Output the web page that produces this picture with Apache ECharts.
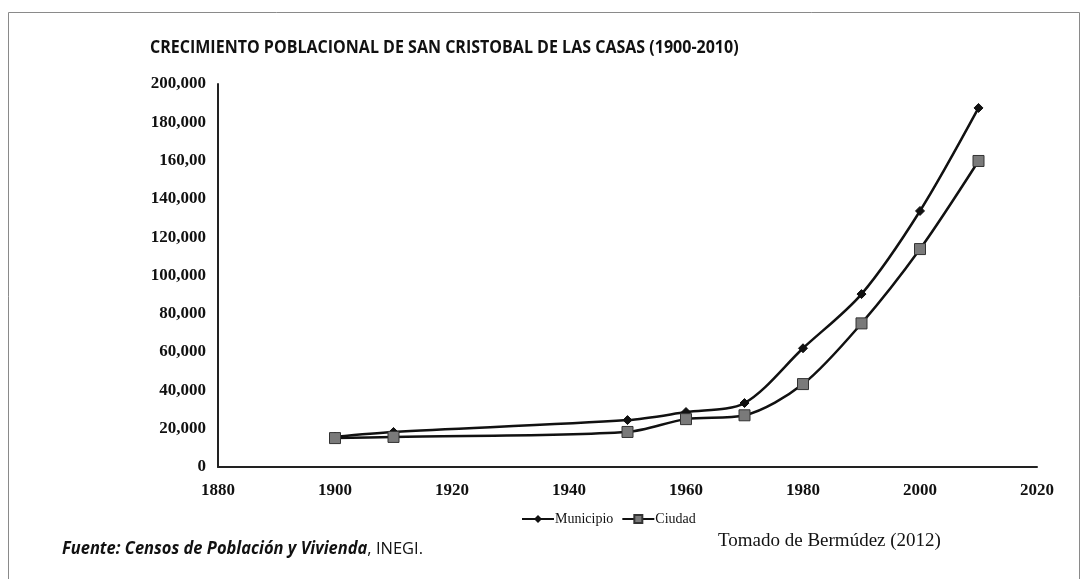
<!DOCTYPE html>
<html><head><meta charset="utf-8">
<script src="https://cdn.jsdelivr.net/npm/echarts@6/dist/echarts.min.js"></script>
<style>html,body{margin:0;padding:0;background:#fff}#c{width:1088px;height:579px}</style>
</head><body><div id="c"></div>
<script>
const years = [1900, 1910, 1950, 1960, 1970, 1980, 1990, 2000, 2010];
const municipio = [15800, 18300, 24500, 28700, 33400, 62000, 90300, 133700, 187500];
const ciudad = [15100, 15700, 18300, 25000, 27000, 43300, 75000, 113800, 159800];
const yTickLabels = {0:'0',20000:'20,000',40000:'40,000',60000:'60,000',80000:'80,000',100000:'100,000',120000:'120,000',140000:'140,000',160000:'160,00',180000:'180,000',200000:'200,000'};
const xTicks = [1880,1900,1920,1940,1960,1980,2000,2020];
const titleText = 'CRECIMIENTO POBLACIONAL DE SAN CRISTOBAL DE LAS CASAS (1900-2010)';

const chart = echarts.init(document.getElementById('c'));
const serif = '"Liberation Serif","DejaVu Serif",serif';
const sans = '"Open Sans","Liberation Sans",sans-serif';
chart.setOption({
  animation:false,
  backgroundColor:'#fff',
  grid:{left:218,right:51,top:84,bottom:112},
  legend:{left:516,top:507,itemWidth:32,itemHeight:10,itemGap:8,
    textStyle:{fontFamily:serif,fontSize:14,color:'#111',padding:[0,0,0,-4]},
    data:['Municipio','Ciudad']},
  xAxis:{type:'value',min:1880,max:2020,interval:20,
    axisLine:{lineStyle:{color:'#222',width:2}},axisTick:{show:false},splitLine:{show:false},
    axisLabel:{margin:15,fontFamily:serif,fontWeight:'bold',fontSize:17,color:'#111',
      formatter:v=>xTicks.includes(v)?String(v):''}},
  yAxis:{type:'value',min:0,max:200000,interval:20000,
    axisLine:{show:true,lineStyle:{color:'#222',width:2}},axisTick:{show:false},splitLine:{show:false},
    axisLabel:{margin:12,fontFamily:serif,fontWeight:'bold',fontSize:17,color:'#111',
      formatter:v=>yTickLabels[v]!==undefined?yTickLabels[v]:''}},
  series:[
    {name:'Municipio',type:'line',smooth:0.3,data:years.map((y,i)=>[y,municipio[i]]),
      symbol:'diamond',symbolSize:9,lineStyle:{color:'#111',width:2.5},
      itemStyle:{color:'#111',borderColor:'#111'}},
    {name:'Ciudad',type:'line',smooth:0.3,data:years.map((y,i)=>[y,ciudad[i]]),
      symbol:'rect',symbolSize:11,lineStyle:{color:'#111',width:2.5},
      itemStyle:{color:'#7a7a7a',borderColor:'#333',borderWidth:1}}
  ],
  graphic:[
    {type:'rect',shape:{x:8.5,y:12.5,width:1071,height:580},style:{fill:'none',stroke:'#8a8a8a',lineWidth:1}},
    {type:'text',x:150,y:39,scaleX:0.89,style:{text:titleText,fontFamily:sans,fontWeight:'bold',fontSize:18,fill:'#111'}},
    {type:'text',x:62,y:541,scaleX:0.97,style:{text:'{i|Fuente: Censos de Población y Vivienda}{n|, INEGI.}',
      rich:{i:{fontFamily:sans,fontStyle:'italic',fontWeight:'bold',fontSize:17,fill:'#111'},
            n:{fontFamily:sans,fontSize:17,fill:'#111'}}}},
    {type:'text',x:718,y:532,style:{text:'Tomado de Bermúdez (2012)',fontFamily:serif,fontSize:19,fill:'#111'}}
  ]
});
</script></body></html>
